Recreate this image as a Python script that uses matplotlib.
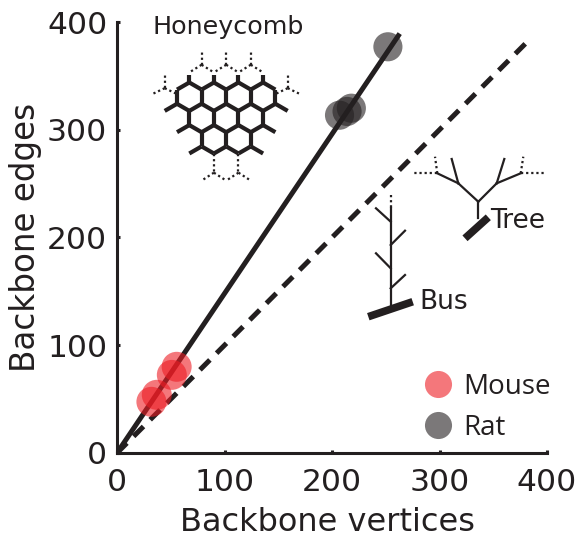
import numpy as np
import matplotlib
matplotlib.use('Agg')
import matplotlib.pyplot as plt
from matplotlib.lines import Line2D

# data
mouse_x = [32, 37, 51, 55.5]
mouse_y = [47.5, 54, 72.5, 80]
rat_x = [207, 214, 218, 252]
rat_y = [313.5, 317, 320, 377]
fit_slope = 1.48
fit_x = [0, 263]
ident_x = [0, 385]
ticks = [0, 100, 200, 300, 400]
series_names = ['Mouse', 'Rat']

INK = '#231f20'
RED = '#ed1c24'

plt.rcParams['font.family'] = ['DejaVu Sans']

fig = plt.figure(figsize=(5.81, 5.40), dpi=100)
ax = fig.add_axes([117/581, 87/540, 430/581, 431/540])

ax.plot(fit_x, [fit_slope*x for x in fit_x], color=INK, lw=3.6, solid_capstyle='butt', zorder=2)
ax.plot(ident_x, ident_x, color=INK, lw=3.6, dashes=(2.8, 1.9), dash_capstyle='butt', zorder=2)
ax.scatter(mouse_x, mouse_y, s=466, color=RED, alpha=0.6, edgecolors='none', zorder=3)
ax.scatter(rat_x, rat_y, s=440, color=INK, alpha=0.6, edgecolors='none', zorder=3)

ax.set_xlim(0, 400)
ax.set_ylim(0, 400)
ax.set_xticks(ticks)
ax.set_yticks(ticks)
for side in ['top', 'right']:
    ax.spines[side].set_visible(False)
for side in ['left', 'bottom']:
    ax.spines[side].set_linewidth(2.2)
    ax.spines[side].set_color(INK)
ax.tick_params(direction='in', length=2.5, width=2.2, color=INK, labelsize=22.6, labelcolor=INK)
ax.tick_params(axis='x', pad=11)
ax.tick_params(axis='y', pad=7)
ax.set_xlabel('Backbone vertices', fontsize=23, color=INK)
ax.set_ylabel('Backbone edges', fontsize=23.5, color=INK, labelpad=3.5)
ax.xaxis.set_label_coords(0.49, -0.125)

handles = [Line2D([], [], ls='none', marker='o', ms=19.5, mfc=RED, mec='none', alpha=0.6),
           Line2D([], [], ls='none', marker='o', ms=19.5, mfc=INK, mec='none', alpha=0.6)]
leg = ax.legend(handles, series_names, loc='upper left', bbox_to_anchor=(424/581, 1-373/540),
                bbox_transform=fig.transFigure, frameon=False, handlelength=1.0,
                handletextpad=0.4, labelspacing=0.46, borderpad=0, borderaxespad=0,
                prop={'family': 'Open Sans', 'size': 20})
for t in leg.get_texts():
    t.set_color(INK)

# schematic drawings, in figure pixels
deco = fig.add_axes([0, 0, 1, 1])
deco.set_xlim(0, 581)
deco.set_ylim(540, 0)
deco.axis('off')

DOT = dict(color=INK, lw=1.6, ls=(0, (1.0, 1.3)), solid_capstyle='butt')

# honeycomb
s = 14.2
ox, oy = 189.3, 96.7
def hc(u, v):
    return ox + s*u, oy - s*v

r3 = np.sqrt(3)/2
rows = [[0, 1, 2, 3], [0, 1, 2], [0, 1]]
edges = set()
for r, cols in enumerate(rows):
    for c in cols:
        cu, cv = r3*(2*c + r), -1.5*r
        pts = [(round(cu + np.cos(a), 3), round(cv + np.sin(a), 3))
               for a in np.deg2rad(np.arange(30, 390, 60))]
        for i in range(6):
            e = tuple(sorted([pts[i], pts[(i+1) % 6]]))
            edges.add(e)
stubs = []
for c in rows[0]:
    stubs.append(((r3*2*c, 1), (r3*2*c, 1.55)))
mid = r3*3
for (a, b) in [((-r3, -0.5), (-2*r3, -1)), ((0, -2), (-r3, -2.5)), ((r3, -3.5), (0, -4))]:
    stubs.append((a, b))
    stubs.append(((2*mid - a[0], a[1]), (2*mid - b[0], b[1])))
for (p, q) in list(edges) + stubs:
    x0, y0 = hc(*p)
    x1, y1 = hc(*q)
    deco.plot([x0, x1], [y0, y1], color=INK, lw=3.0, solid_capstyle='butt')

def trident(u, v, up, arm_dx, arm_dy, vdir=1):
    # dotted continuation of the lattice
    x0, y0 = hc(u, v)
    x1, y1 = hc(u, v + vdir*up)
    deco.plot([x0, x1], [y0, y1], **DOT)
    for sgn in (-1, 1):
        x2, y2 = hc(u + sgn*arm_dx, v - arm_dy)
        deco.plot([x0, x2], [y0, y2], **DOT)

for c in range(3):
    trident(r3*(2*c + 1), 2.25, 0.95, 0.8, 0.5)
trident(-2*r3, 0.6, 0.9, 0.8, 0.38)
trident(2*mid + 2*r3, 0.6, 0.9, 0.8, 0.38)
for c in rows[2]:
    cu = r3*(2*c + 2)
    x0, y0 = hc(cu, -4)
    x1, y1 = hc(cu, -5.35)
    deco.plot([x0, x1], [y0, y1], **DOT)
    for sgn in (-1, 1):
        x2, y2 = hc(cu + sgn*0.85, -5.9)
        deco.plot([x1, x2], [y1, y2], **DOT)

deco.text(228, 27, 'Honeycomb', fontsize=18.3, color=INK, ha='center', va='center')

# tree
tree_solid = [((478.3, 218.3), (478.3, 201.7)),
              ((478.3, 201.7), (458.3, 183.3)), ((478.3, 201.7), (496.7, 183.3)),
              ((458.3, 183.3), (437.3, 173.3)), ((458.3, 183.3), (451.7, 159)),
              ((496.7, 183.3), (520.7, 173.3)), ((496.7, 183.3), (504.3, 159))]
tree_dot = [((437.3, 173.3), (411.7, 173.3)), ((437.3, 173.3), (435, 156.7)),
            ((520.7, 173.3), (545, 173.3)), ((520.7, 173.3), (523.3, 156.7))]
for (p, q) in tree_solid:
    deco.plot([p[0], q[0]], [p[1], q[1]], color=INK, lw=1.6)
for (p, q) in tree_dot:
    deco.plot([p[0], q[0]], [p[1], q[1]], **DOT)
deco.plot([465, 488.3], [238.3, 217.3], color=INK, lw=5.5, solid_capstyle='butt')
deco.text(490, 221, 'Tree', fontsize=19, color=INK, ha='left', va='center')

# bus
bus_solid = [((390.7, 208), (390.7, 305)),
             ((390.7, 221.7), (376, 208.3)), ((390.7, 245), (405, 230.7)),
             ((390.7, 268.3), (376, 253.3)), ((390.7, 288.3), (405, 275))]
for (p, q) in bus_solid:
    deco.plot([p[0], q[0]], [p[1], q[1]], color=INK, lw=1.6)
deco.plot([390.7, 390.7], [195, 208], **DOT)
deco.plot([368.3, 412.7], [316.7, 301.7], color=INK, lw=5.5, solid_capstyle='butt')
deco.text(419, 302, 'Bus', fontsize=19, color=INK, ha='left', va='center')

fig.savefig('out.png', dpi=100)
